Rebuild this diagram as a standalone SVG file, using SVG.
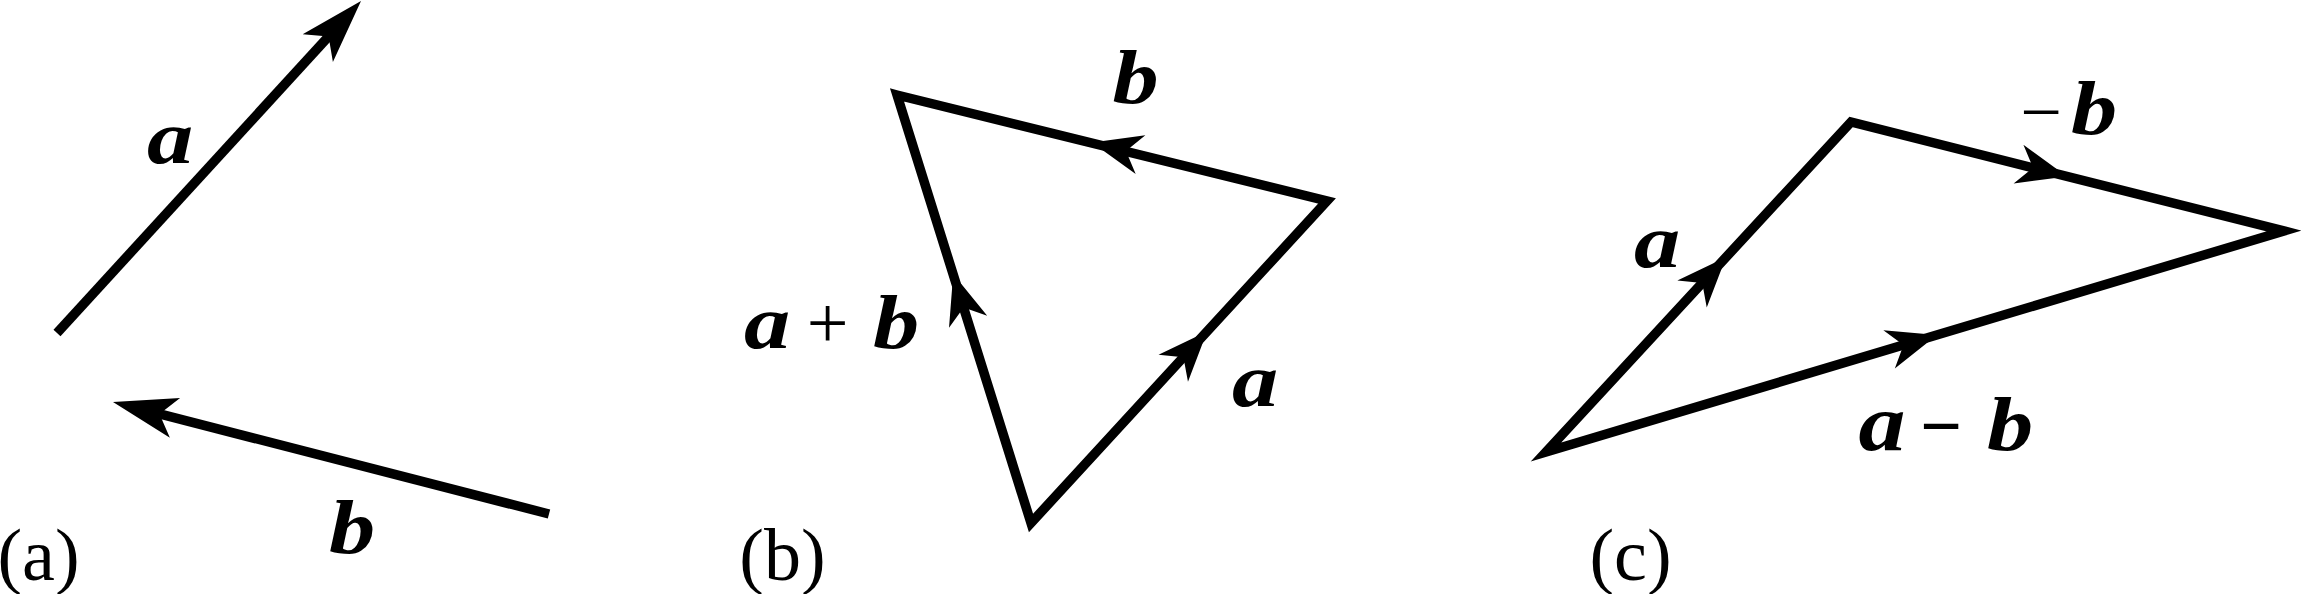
<svg xmlns="http://www.w3.org/2000/svg" xmlns:xlink="http://www.w3.org/1999/xlink" width="2301" height="594" viewBox="0 0 2301 594">
<style>
.ln{fill:none;stroke:#000;stroke-width:9.5;stroke-linecap:butt;stroke-linejoin:miter;stroke-miterlimit:10}
.ah{fill:#000;stroke:none}
.v{font-family:"Liberation Serif","Times New Roman",serif;font-weight:bold;font-style:italic;font-size:77px;fill:#000;text-anchor:middle}
.r{font-family:"Liberation Serif","Times New Roman",serif;font-size:74px;fill:#000;text-anchor:middle}
.rb{font-family:"Liberation Serif","Times New Roman",serif;font-weight:bold;font-size:74px;fill:#000;text-anchor:middle}
</style>
<defs>
<path id="ahL" class="ah" d="M0,0 L-64,-20.5 L-48,0 L-64,20.5 Z"/>
<path id="ahS" class="ah" d="M0,0 L-50,-20 L-35,0 L-50,20 Z"/>
</defs>
<g id="connectors">
<line class="ln" x1="57" y1="333" x2="330.6" y2="34.2"/>
<use xlink:href="#ahL" transform="translate(361,1) rotate(-47.52)"/>
<line class="ln" x1="549" y1="514" x2="156.6" y2="413.2"/>
<use xlink:href="#ahL" transform="translate(113,402) rotate(-165.59)"/>
<polygon class="ln" points="897,95 1327,201 1031,523"/>
<use xlink:href="#ahS" transform="translate(1092,142.5) rotate(-166.03)"/>
<use xlink:href="#ahS" transform="translate(953.2,274) rotate(-107.35)"/>
<use xlink:href="#ahS" transform="translate(1207.1,331.4) rotate(-47.4)"/>
<polygon class="ln" points="1546,452 1851,122 2284,231"/>
<use xlink:href="#ahS" transform="translate(1726,257.3) rotate(-47.25)"/>
<use xlink:href="#ahS" transform="translate(2067,176.4) rotate(14.13)"/>
<use xlink:href="#ahS" transform="translate(1937,335) rotate(-16.67)"/>
</g>
<g id="label-a1"><text class="v" transform="translate(170,163) scale(1.2,1)">a</text></g>
<g id="label-b1"><text class="v" transform="translate(352,553) scale(1.2,1)">b</text></g>
<g id="caption-a"><text class="r" x="38.5" y="580">(a)</text></g>
<g id="label-b2"><text class="v" transform="translate(1135.5,103) scale(1.2,1)">b</text></g>
<g id="label-apb">
<text class="v" transform="translate(767,348) scale(1.2,1)">a</text>
<text class="r" x="827.5" y="348">+</text>
<text class="v" transform="translate(896,348) scale(1.2,1)">b</text>
</g>
<g id="label-a2"><text class="v" transform="translate(1255,406) scale(1.2,1)">a</text></g>
<g id="caption-b"><text class="r" x="782.5" y="580">(b)</text></g>
<g id="label-mb">
<text class="r" x="2041" y="137">−</text>
<text class="v" transform="translate(2094,134) scale(1.2,1)">b</text>
</g>
<g id="label-a3"><text class="v" transform="translate(1657,267) scale(1.2,1)">a</text></g>
<g id="label-amb">
<text class="v" transform="translate(1882,450) scale(1.22,1.04)">a</text>
<text class="rb" x="1941" y="451">−</text>
<text class="v" transform="translate(2010,450) scale(1.2,1)">b</text>
</g>
<g id="caption-c"><text class="r" x="1630.5" y="580">(c)</text></g>
</svg>
